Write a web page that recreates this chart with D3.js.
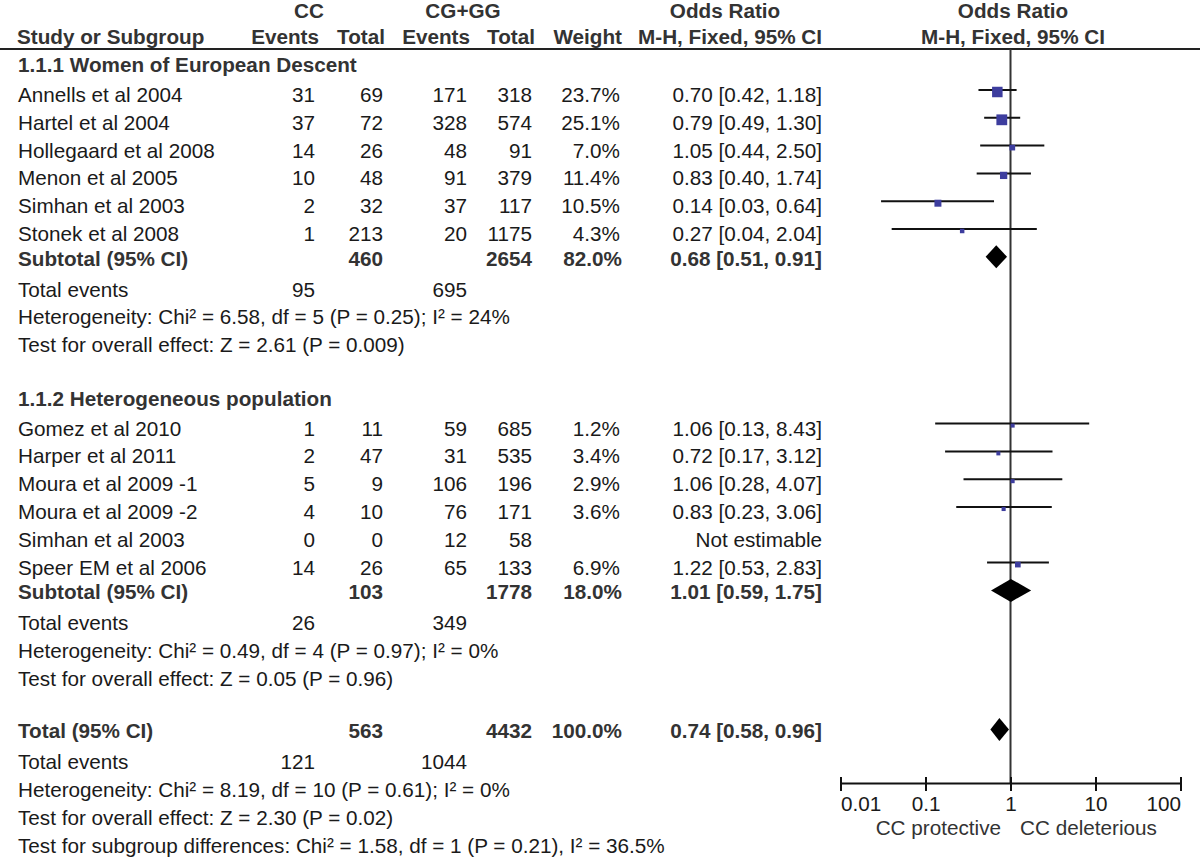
<!DOCTYPE html>
<html><head><meta charset="utf-8">
<script src="https://cdn.jsdelivr.net/npm/d3@7/dist/d3.min.js"></script>
<style>
body{margin:0;background:#fff}
svg{display:block}
text{font-family:"Liberation Sans",Arial,Helvetica,sans-serif}
</style>
</head><body>
<svg id="chart" width="1200" height="857"></svg>
<script>
// ---------- DATA ----------
const group1Title = "1.1.1 Women of European Descent";
const studies1 = ["Annells et al 2004","Hartel et al 2004","Hollegaard et al 2008","Menon et al 2005","Simhan et al 2003","Stonek et al 2008"];
const ccEvents1 = [31,37,14,10,2,1];
const ccTotal1  = [69,72,26,48,32,213];
const cgEvents1 = [171,328,48,91,37,20];
const cgTotal1  = [318,574,91,379,117,1175];
const weight1   = [23.7,25.1,7.0,11.4,10.5,4.3];
const or1 = [0.70,0.79,1.05,0.83,0.14,0.27];
const lo1 = [0.42,0.49,0.44,0.40,0.03,0.04];
const hi1 = [1.18,1.30,2.50,1.74,0.64,2.04];
const sub1 = {ccT:460, cgT:2654, w:82.0, or:0.68, lo:0.51, hi:0.91, ccE:95, cgE:695};
const het1 = "Heterogeneity: Chi² = 6.58, df = 5 (P = 0.25); I² = 24%";
const test1 = "Test for overall effect: Z = 2.61 (P = 0.009)";

const group2Title = "1.1.2 Heterogeneous population";
const studies2 = ["Gomez et al 2010","Harper et al 2011","Moura et al 2009 -1","Moura et al 2009 -2","Simhan et al 2003","Speer EM et al 2006"];
const ccEvents2 = [1,2,5,4,0,14];
const ccTotal2  = [11,47,9,10,0,26];
const cgEvents2 = [59,31,106,76,12,65];
const cgTotal2  = [685,535,196,171,58,133];
const weight2   = [1.2,3.4,2.9,3.6,null,6.9];
const or2 = [1.06,0.72,1.06,0.83,null,1.22];
const lo2 = [0.13,0.17,0.28,0.23,null,0.53];
const hi2 = [8.43,3.12,4.07,3.06,null,2.83];
const sub2 = {ccT:103, cgT:1778, w:18.0, or:1.01, lo:0.59, hi:1.75, ccE:26, cgE:349};
const het2 = "Heterogeneity: Chi² = 0.49, df = 4 (P = 0.97); I² = 0%";
const test2 = "Test for overall effect: Z = 0.05 (P = 0.96)";

const totalAll = {ccT:563, cgT:4432, w:100.0, or:0.74, lo:0.58, hi:0.96, ccE:121, cgE:1044};
const hetAll = "Heterogeneity: Chi² = 8.19, df = 10 (P = 0.61); I² = 0%";
const testAll = "Test for overall effect: Z = 2.30 (P = 0.02)";
const testSub = "Test for subgroup differences: Chi² = 1.58, df = 1 (P = 0.21), I² = 36.5%";

const tickValues = [0.01, 0.1, 1, 10, 100];
const favourLeft = "CC protective";
const favourRight = "CC deleterious";

// ---------- LAYOUT ----------
const svg = d3.select("#chart");
const FS = 20.7;
const col = {label:18, ccE:315, ccT:383, cgE:467, cgT:532, w:620, or:822};
const y = d3.scaleLinear().domain([0,1]).range([90, 117.8]);
const x = d3.scaleLog().domain([0.01,100]).range([840.5,1180.5]);
const sq = d3.scaleSqrt().domain([0,25.1]).range([0,10.8]);
const f2 = d3.format(".2f"), f1 = d3.format(".1f");
const orText = (o,l,h) => `${f2(o)} [${f2(l)}, ${f2(h)}]`;

const textCol = "#1a1a1a", boldCol = "#333", markCol = "#3d3d9e";

function txt(xp, yp, s, opts={}) {
  return svg.append("text").attr("x", xp).attr("y", yp).text(s)
    .attr("font-size", opts.size || FS)
    .attr("font-weight", opts.bold ? "bold" : "normal")
    .attr("text-anchor", opts.anchor || "start")
    .attr("fill", opts.color || (opts.bold ? boldCol : textCol));
}

// headers
txt(309, 18, "CC", {bold:true, anchor:"middle"});
txt(463, 18, "CG+GG", {bold:true, anchor:"middle"});
txt(725, 18, "Odds Ratio", {bold:true, anchor:"middle"});
txt(1013, 18, "Odds Ratio", {bold:true, anchor:"middle"});
txt(17, 44, "Study or Subgroup", {bold:true});
txt(319, 44, "Events", {bold:true, anchor:"end"});
txt(385, 44, "Total", {bold:true, anchor:"end"});
txt(470, 44, "Events", {bold:true, anchor:"end"});
txt(535, 44, "Total", {bold:true, anchor:"end"});
txt(622, 44, "Weight", {bold:true, anchor:"end"});
txt(822, 44, "M-H, Fixed, 95% CI", {bold:true, anchor:"end"});
txt(1013, 44, "M-H, Fixed, 95% CI", {bold:true, anchor:"middle"});

svg.append("line").attr("x1",0).attr("x2",1200).attr("y1",49).attr("y2",49)
  .attr("stroke","#222").attr("stroke-width",2);

// vertical line of no effect
const axisY = 783;
svg.append("line").attr("x1",x(1)).attr("x2",x(1)).attr("y1",49).attr("y2",axisY)
  .attr("stroke","#333").attr("stroke-width",2);

function group(title, k0, studies, ccE, ccT, cgE, cgT, w, o, l, h, sub, het, test) {
  txt(col.label, y(k0-1)+10, title, {bold:true});
  studies.forEach((s,i) => {
    const k = k0 + i, yy = y(k);
    txt(col.label, yy+12, s);
    txt(col.ccE, yy+12, ccE[i], {anchor:"end"});
    txt(col.ccT, yy+12, ccT[i], {anchor:"end"});
    txt(col.cgE, yy+12, cgE[i], {anchor:"end"});
    txt(col.cgT, yy+12, cgT[i], {anchor:"end"});
    if (w[i] != null) {
      txt(col.w, yy+12, f1(w[i])+"%", {anchor:"end"});
      txt(col.or, yy+12, orText(o[i],l[i],h[i]), {anchor:"end"});
      svg.append("line").attr("x1",x(l[i])).attr("x2",x(h[i])).attr("y1",yy).attr("y2",yy)
        .attr("stroke","#111").attr("stroke-width",2);
      const s2 = Math.max(4, sq(w[i]));
      svg.append("rect").attr("x",x(o[i])-s2/2).attr("y",yy+2-s2/2)
        .attr("width",s2).attr("height",s2).attr("fill",markCol);
    } else {
      txt(col.or, yy+12, "Not estimable", {anchor:"end"});
    }
  });
  const ks = k0 + studies.length;
  summary("Subtotal (95% CI)", ks, sub);
  txt(col.label, y(ks+1)+12, "Total events");
  txt(col.ccE, y(ks+1)+12, sub.ccE, {anchor:"end"});
  txt(col.cgE, y(ks+1)+12, sub.cgE, {anchor:"end"});
  txt(col.label, y(ks+2)+12, het);
  txt(col.label, y(ks+3)+12, test);
}

function summary(label, k, s) {
  const yy = y(k);
  txt(col.label, yy+9, label, {bold:true});
  txt(col.ccT, yy+9, s.ccT, {bold:true, anchor:"end"});
  txt(col.cgT, yy+9, s.cgT, {bold:true, anchor:"end"});
  txt(col.w+2, yy+9, f1(s.w)+"%", {bold:true, anchor:"end"});
  txt(col.or, yy+9, orText(s.or,s.lo,s.hi), {bold:true, anchor:"end"});
  const hh = 11.5;
  svg.append("path").attr("d", d3.line()([[x(s.lo),yy],[x(s.or),yy-hh],[x(s.hi),yy],[x(s.or),yy+hh]]) + "Z")
    .attr("fill","#000");
}

group(group1Title, 0, studies1, ccEvents1, ccTotal1, cgEvents1, cgTotal1, weight1, or1, lo1, hi1, sub1, het1, test1);
group(group2Title, 12, studies2, ccEvents2, ccTotal2, cgEvents2, cgTotal2, weight2, or2, lo2, hi2, sub2, het2, test2);

summary("Total (95% CI)", 23, totalAll);
txt(col.label, y(24)+12, "Total events");
txt(col.ccE, y(24)+12, totalAll.ccE, {anchor:"end"});
txt(col.cgE, y(24)+12, totalAll.cgE, {anchor:"end"});
txt(col.label, y(25)+12, hetAll);
txt(col.label, y(26)+12, testAll);
txt(col.label, y(27)+12, testSub);

// axis
const axis = d3.axisBottom(x).tickValues(tickValues).tickFormat(d3.format("~g"))
  .tickSizeInner(8).tickSizeOuter(0);
const ag = svg.append("g").attr("transform",`translate(0,${axisY})`).call(axis);
ag.select(".domain").attr("stroke","#111").attr("stroke-width",2);
ag.selectAll(".tick line").attr("y1",-6).attr("y2",8).attr("stroke","#111").attr("stroke-width",2);
ag.selectAll(".tick text").attr("y",28).attr("dy",0).attr("font-size",FS)
  .attr("font-family",'"Liberation Sans",Arial,sans-serif').attr("fill",textCol)
  .attr("text-anchor",(d,i,n)=> i===0 ? "start" : (i===n.length-1 ? "end" : "middle"));
txt(1001, 835, favourLeft, {anchor:"end", color:"#333"});
txt(1020, 835, favourRight, {anchor:"start", color:"#333"});
</script>
</body></html>
